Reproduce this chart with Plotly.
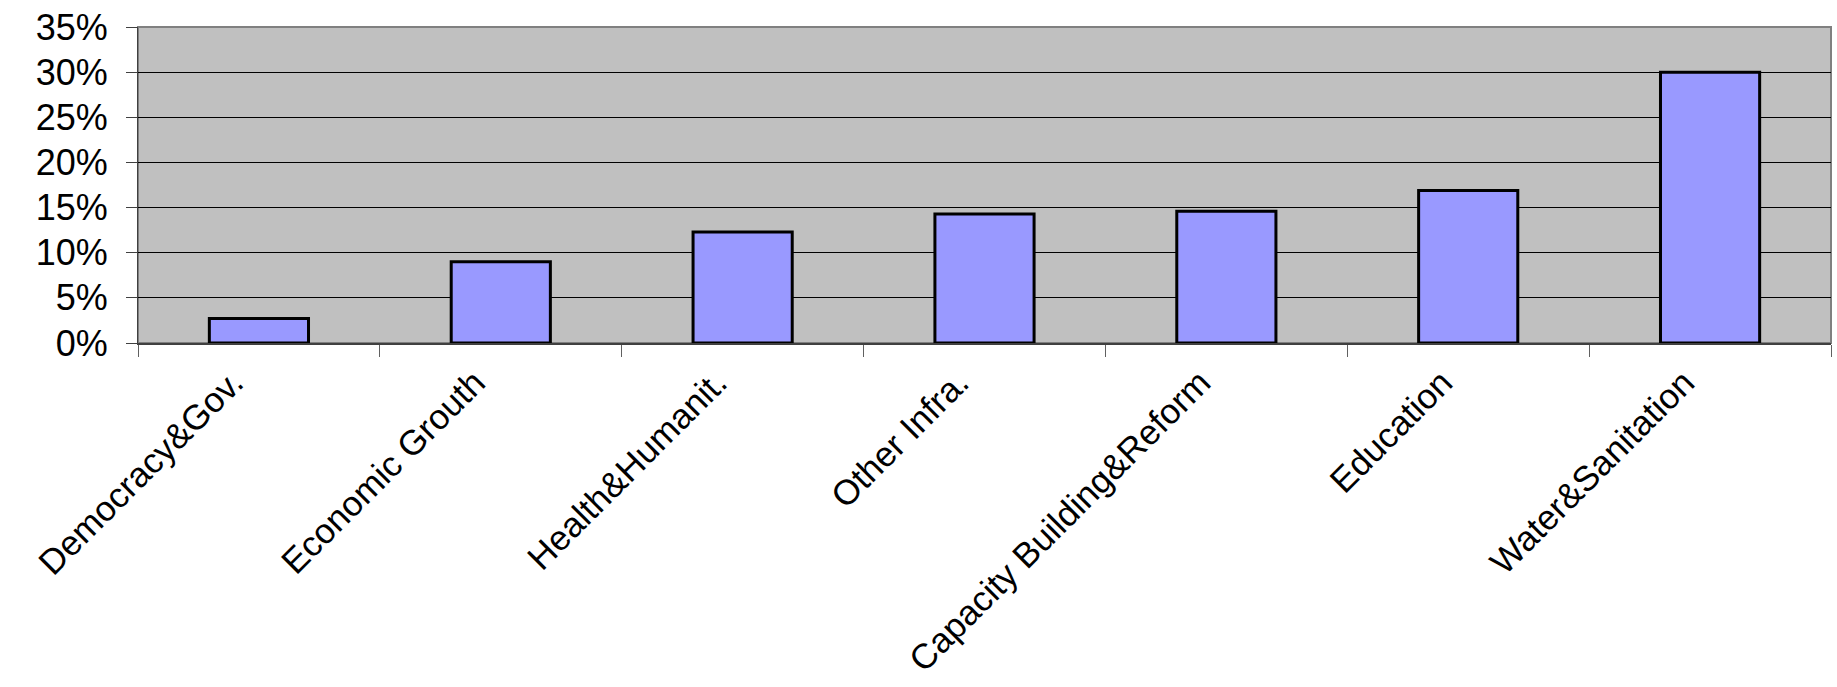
import plotly.graph_objects as go

# Share of funding by sector
categories = [
    "Democracy&Gov.",
    "Economic Grouth",
    "Health&Humanit.",
    "Other Infra.",
    "Capacity Building&Reform",
    "Education",
    "Water&Sanitation",
]
shares = [0.027, 0.090, 0.123, 0.143, 0.146, 0.169, 0.300]

y_ticks = [0, 0.05, 0.10, 0.15, 0.20, 0.25, 0.30, 0.35]

FONT = "Liberation Sans, Arial, sans-serif"

fig = go.Figure(
    go.Bar(
        x=categories,
        y=shares,
        width=0.41,
        marker=dict(color="#9999FF", line=dict(color="#000000", width=3)),
        hoverinfo="x+y",
    )
)

fig.update_layout(
    width=1837,
    height=687,
    margin=dict(l=138, r=6, t=27, b=344, pad=0),
    paper_bgcolor="#FFFFFF",
    plot_bgcolor="#C0C0C0",
    showlegend=False,
    font=dict(family=FONT, size=36, color="#000000"),
)

fig.update_xaxes(
    type="category",
    tickangle=-45,
    tickson="boundaries",
    ticks="outside",
    ticklen=12,
    tickwidth=1,
    tickcolor="#606060",
    showline=True,
    linecolor="#404040",
    linewidth=2,
    showgrid=False,
    automargin=False,
    ticklabelshift=-26,
    ticklabelstandoff=3,
    tickfont=dict(family=FONT, size=35, color="#000000"),
)

fig.update_yaxes(
    range=[0, 0.35],
    tickvals=y_ticks,
    tickformat=".0%",
    ticks="outside",
    ticklen=11,
    tickwidth=1,
    tickcolor="#404040",
    showline=True,
    linecolor="#404040",
    linewidth=1,
    showgrid=True,
    gridcolor="#000000",
    gridwidth=1,
    zeroline=False,
    automargin=False,
    ticklabelstandoff=11,
    tickfont=dict(family=FONT, size=36, color="#000000"),
)

# Plot-area frame (top and right edges)
fig.add_shape(
    type="rect",
    xref="paper",
    yref="paper",
    x0=0,
    x1=1,
    y0=0,
    y1=1,
    line=dict(color="#808080", width=2),
    layer="below",
)

fig.write_html("out.html")
